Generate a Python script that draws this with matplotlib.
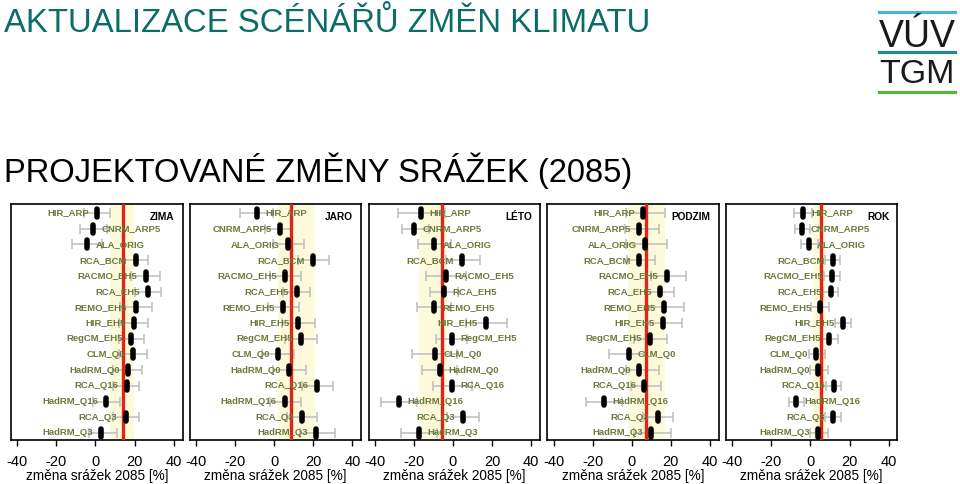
import numpy as np
import matplotlib
matplotlib.use('Agg')
import matplotlib.pyplot as plt
from matplotlib.lines import Line2D

plt.rcParams['font.family'] = ['Liberation Sans', 'DejaVu Sans']

# model runs (top to bottom)
models = ['HIR_ARP', 'CNRM_ARP5', 'ALA_ORIG', 'RCA_BCM', 'RACMO_EH5', 'RCA_EH5',
          'REMO_EH5', 'HIR_EH5', 'RegCM_EH5', 'CLM_Q0', 'HadRM_Q0', 'RCA_Q16',
          'HadRM_Q16', 'RCA_Q3', 'HadRM_Q3']
seasons = ['ZIMA', 'JARO', 'LÉTO', 'PODZIM', 'ROK']

# change of precipitation 2085 [%] - point estimate, lower and upper bound
zima = [0.8, -1.2, -4.2, 20.5, 25.8, 26.8, 20.5, 19.5, 18.3, 19.2, 16.5, 16.0, 5.5, 15.5, 3.0]
zima_lo = [-5.8, -8.0, -12.2, 14.0, 18.0, 20.0, 12.5, 12.0, 12.0, 12.0, 9.0, 9.0, -1.5, 9.0, -3.3]
zima_hi = [7.5, 5.8, 3.3, 27.0, 33.0, 33.5, 29.0, 27.0, 25.0, 26.3, 24.0, 22.0, 12.5, 22.0, 10.8]

jaro = [-9.0, 2.9, 7.2, 20.0, 5.5, 11.5, 4.6, 12.3, 13.7, 2.0, 7.7, 21.7, 5.5, 14.4, 21.4]
jaro_lo = [-17.6, -4.8, -0.5, 12.3, -2.2, 4.6, -3.4, 3.8, 5.5, -6.2, -0.5, 14.0, -2.2, 6.3, 13.2]
jaro_hi = [-0.5, 8.9, 15.2, 28.2, 13.7, 18.3, 12.8, 20.8, 22.0, 10.3, 16.0, 30.0, 13.5, 22.0, 31.0]

leto = [-16.2, -19.7, -9.7, 4.8, -3.8, -4.4, -9.7, 17.1, -0.7, -9.2, -6.8, -0.3, -27.7, 5.1, -17.4]
leto_lo = [-28.2, -26.3, -17.8, -3.8, -14.0, -11.5, -18.3, 6.5, -8.5, -20.8, -16.0, -10.0, -37.0, -2.9, -26.5]
leto_hi = [-4.3, -12.3, -1.2, 13.8, 6.5, 2.7, -1.2, 27.4, 7.0, 2.2, 2.2, 9.6, -18.3, 13.3, -8.4]

podzim = [5.8, 3.8, 6.8, 3.8, 17.9, 14.4, 16.6, 16.2, 9.4, -1.4, 3.8, 6.5, -14.2, 13.3, 9.9]
podzim_lo = [-3.0, -3.4, -3.0, -2.2, 9.7, 7.2, 7.2, 8.0, 1.2, -11.6, -3.0, -0.5, -23.2, 6.0, 1.2]
podzim_hi = [17.1, 13.7, 17.8, 12.0, 28.0, 21.7, 26.8, 25.5, 17.9, 8.0, 14.0, 14.9, -5.1, 21.2, 20.3]

rok = [-3.9, -4.4, -0.9, 11.5, 10.9, 10.3, 5.1, 16.6, 9.7, 2.9, 4.1, 11.8, -7.4, 11.5, 4.1]
rok_lo = [-8.2, -7.9, -5.1, 7.2, 6.8, 6.3, 0.3, 12.3, 5.5, -1.0, 0.0, 7.7, -11.1, 7.5, 0.0]
rok_hi = [0.7, -0.5, 3.8, 15.2, 15.2, 14.0, 9.7, 20.8, 14.0, 7.5, 8.9, 15.7, -3.1, 15.4, 8.9]

# ensemble value (red line) and shaded range
ens_mid = [14.2, 8.4, -5.8, 7.2, 5.5]
ens_lo = [7.5, 2.0, -17.4, -2.0, 1.5]
ens_hi = [19.5, 21.0, -3.0, 17.0, 7.7]

vals = [zima, jaro, leto, podzim, rok]
lows = [zima_lo, jaro_lo, leto_lo, podzim_lo, rok_lo]
highs = [zima_hi, jaro_hi, leto_hi, podzim_hi, rok_hi]

W, H = 960, 484
fig = plt.figure(figsize=(W / 100, H / 100), dpi=100)

rows = np.arange(1, len(models) + 1)
for k in range(5):
    v = np.array(vals[k])
    lo = np.array(lows[k])
    hi = np.array(highs[k])
    ax = fig.add_axes([(11 + 178.75 * k) / W, 44 / H, 171.5 / W, 236 / H])
    ax.axvspan(ens_lo[k], ens_hi[k], color='#FCFADA', zorder=0, lw=0)
    ax.errorbar(v, rows, xerr=[v - lo, hi - v], fmt='none', ecolor='#BDBDBD',
                elinewidth=1.1, capsize=3.6, capthick=1.1, zorder=2)
    ax.axvline(ens_mid[k], color='#E2231A', lw=2.4, zorder=3)
    for i in range(len(models)):
        ax.plot([v[i], v[i]], [rows[i] - 0.25, rows[i] + 0.25], color='k', lw=4.0,
                solid_capstyle='round', zorder=5)
        # negative changes labelled on the right, the rest on the left
        if v[i] < 0:
            off, ha = 6, 'left'
        else:
            off, ha = -6, 'right'
        ax.annotate(models[i], (v[i], rows[i]), xytext=(off, 0), textcoords='offset points',
                    ha=ha, va='center', fontsize=6.8, fontweight='bold',
                    color='#6B7B3B', zorder=4)
    ax.text(0.952, 0.945, seasons[k], transform=ax.transAxes, ha='right', va='center',
            fontsize=7.3, fontweight='bold', color='black')
    ax.set_xlim(-43.2, 44.5)
    ax.set_ylim(15.45, 0.43)
    ax.set_yticks([])
    ax.set_xticks([-40, -20, 0, 20, 40])
    ax.set_xticklabels(['-40', '-20', '0', '20', '40'])
    ax.tick_params(axis='x', length=4, width=1, pad=7, labelsize=10.5)
    ax.set_xlabel('změna srážek 2085 [%]', fontsize=9.8, labelpad=0)
    for s in ax.spines.values():
        s.set_linewidth(1.2)

fig.text(4 / W, 1 - 32 / H, 'AKTUALIZACE SCÉNÁŘŮ ZMĚN KLIMATU', fontsize=23.7,
         color='#0B6E66', ha='left', va='baseline')
fig.text(4 / W, 1 - 182 / H, 'PROJEKTOVANÉ ZMĚNY SRÁŽEK (2085)', fontsize=23.6,
         color='black', ha='left', va='baseline')

# logo
for yy, cc in [(12, '#4FB3D9'), (52, '#2E8592'), (92, '#5CB33D')]:
    fig.add_artist(Line2D([879 / W, 955 / W], [1 - yy / H, 1 - yy / H], color=cc, lw=2.3))
fig.text(917 / W, 1 - 47 / H, 'VÚV', fontsize=27, ha='center', va='baseline', color='#1A1A1A')
fig.text(917 / W, 1 - 83 / H, 'TGM', fontsize=24.5, ha='center', va='baseline', color='#1A1A1A')

plt.savefig('out.png', dpi=100)
